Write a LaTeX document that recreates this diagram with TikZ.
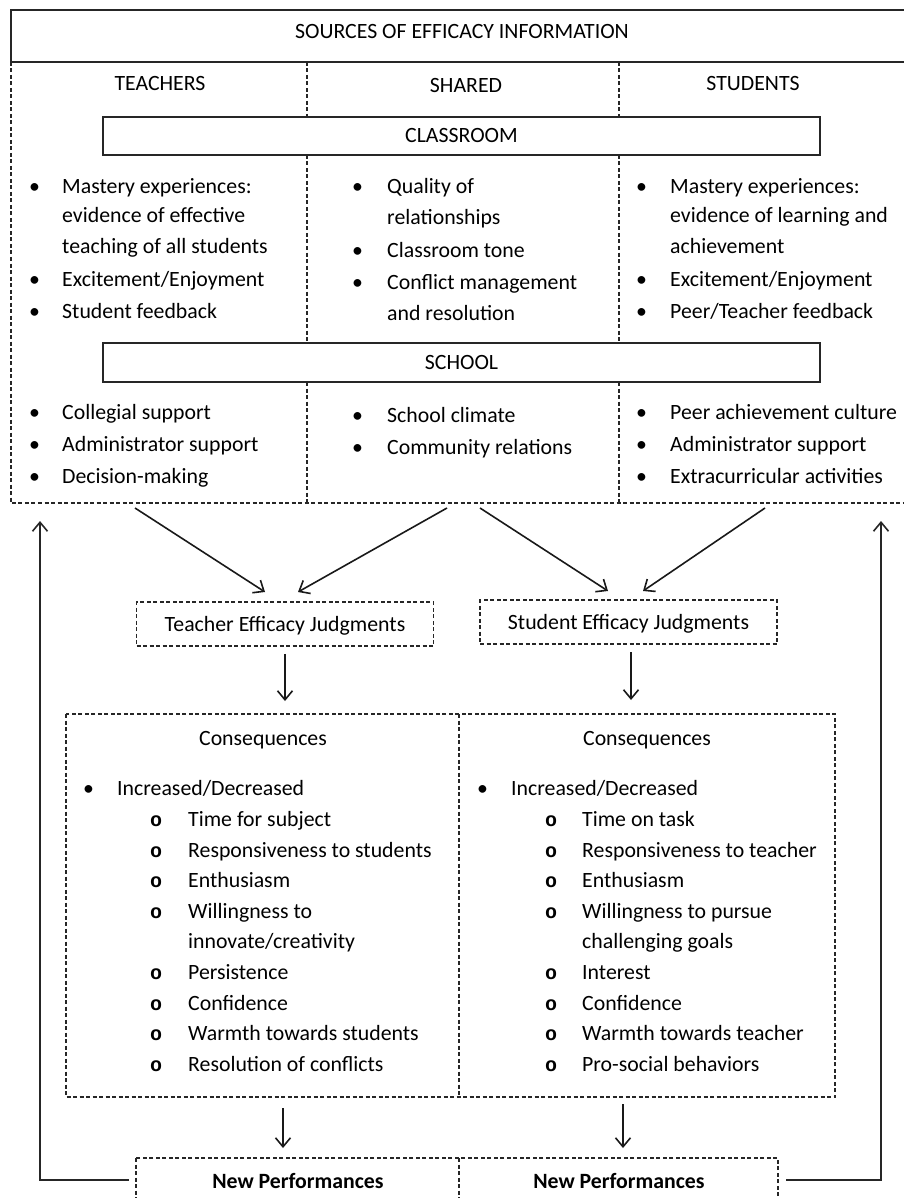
\documentclass[tikz,border=0pt]{standalone}
\usepackage{fontspec}
\setmainfont{Carlito}
\newfontfamily\monofam{Liberation Mono}
\usetikzlibrary{arrows.meta}
\begin{document}
\begin{tikzpicture}[x=1pt,y=-1pt,
  font=\fontsize{21.8}{26}\selectfont,
  solidln/.style={line width=2pt, draw=black!85},
  dsh/.style={line width=1.5pt, draw=black!85, dash pattern=on 4pt off 2.5pt},
  txt/.style={anchor=west, inner sep=0pt, text height=16pt, text depth=2pt, text=black},
  ctr/.style={anchor=center, inner sep=0pt, text height=16pt, text depth=2pt, text=black},
  blt/.style={txt},
  sub/.style={txt, font=\monofam\bfseries\fontsize{20}{24}\selectfont},
  arr/.style={line width=1.6pt, draw=black!90, -{Straight Barb[length=9pt,width=15pt,line width=1.6pt]}},
  fb/.style={line width=2pt, draw=black!85}
]
\useasboundingbox (0,0) rectangle (903,1198);

% ---------- Sources region ----------
\draw[solidln] (920,10) -- (11,10) -- (11,62) -- (920,62);
\node[ctr] (title) at (462,32) {SOURCES OF EFFICACY INFORMATION};
\draw[dsh] (11,62) -- (11,503) -- (920,503);
\foreach \xx in {307,619}{
  \draw[dsh] (\xx,62) -- (\xx,117);
  \draw[dsh] (\xx,155) -- (\xx,343);
  \draw[dsh] (\xx,382) -- (\xx,503);
}
\node[ctr] (hT) at (160,84) {TEACHERS};
\node[ctr] (hS) at (466,86) {SHARED};
\node[ctr] (hU) at (753,84) {STUDENTS};

\node[draw, solidln, minimum width=717pt, minimum height=38pt, inner sep=0pt, text height=16pt, text depth=2pt] (classroom) at (461.5,136) {CLASSROOM};
\node[draw, solidln, minimum width=717pt, minimum height=39pt, inner sep=0pt, text height=16pt, text depth=2pt] (school) at (461.5,362.5) {SCHOOL};

% teachers classroom
\node[blt] (tb1) at (29,187) {•};
\node[txt] (tt1) at (62,187) {Mastery experiences:};
\node[txt] (tt2) at (62,216) {evidence of effective};
\node[txt] (tt3) at (62,246) {teaching of all students};
\node[blt] (tb2) at (29,279) {•};
\node[txt] (tt4) at (62,279) {Excitement/Enjoyment};
\node[blt] (tb3) at (29,311) {•};
\node[txt] (tt5) at (62,311) {Student feedback};
% shared classroom
\node[blt] (sb1) at (352,187) {•};
\node[txt] (st1) at (387,187) {Quality of};
\node[txt] (st2) at (387,218) {relationships};
\node[blt] (sb2) at (352,250) {•};
\node[txt] (st3) at (387,250) {Classroom tone};
\node[blt] (sb3) at (352,282) {•};
\node[txt] (st4) at (387,282) {Conflict management};
\node[txt] (st5) at (387,313) {and resolution};
% students classroom
\node[blt] (ub1) at (636,187) {•};
\node[txt] (ut1) at (670,187) {Mastery experiences:};
\node[txt] (ut2) at (670,216) {evidence of learning and};
\node[txt] (ut3) at (670,247) {achievement};
\node[blt] (ub2) at (636,279) {•};
\node[txt] (ut4) at (670,279) {Excitement/Enjoyment};
\node[blt] (ub3) at (636,311) {•};
\node[txt] (ut5) at (670,311) {Peer/Teacher feedback};

% school
\node[blt] (tb4) at (29,412) {•};
\node[txt] (tt6) at (62,412) {Collegial support};
\node[blt] (tb5) at (29,444) {•};
\node[txt] (tt7) at (62,444) {Administrator support};
\node[blt] (tb6) at (29,476) {•};
\node[txt] (tt8) at (62,476) {Decision-making};
\node[blt] (sb4) at (352,415) {•};
\node[txt] (st6) at (387,415) {School climate};
\node[blt] (sb5) at (352,447) {•};
\node[txt] (st7) at (387,447) {Community relations};
\node[blt] (ub4) at (636,412) {•};
\node[txt] (ut6) at (670,412) {Peer achievement culture};
\node[blt] (ub5) at (636,444) {•};
\node[txt] (ut7) at (670,444) {Administrator support};
\node[blt] (ub6) at (636,476) {•};
\node[txt] (ut8) at (670,476) {Extracurricular activities};

% ---------- Judgments ----------
\node[dsh, draw, minimum width=297pt, minimum height=44pt, inner sep=0pt, text height=16pt, text depth=2pt] (tej) at (285,624) {Teacher Efficacy Judgments};
\node[dsh, draw, minimum width=297pt, minimum height=44pt, inner sep=0pt, text height=16pt, text depth=2pt] (sej) at (628.5,622) {Student Efficacy Judgments};

\coordinate (a1) at (135,508);
\coordinate (a2) at (447,508);
\coordinate (a3) at (480,508);
\coordinate (a4) at (765,508);
\coordinate (e1) at (265,592);
\coordinate (e2) at (298,592);
\coordinate (e3) at (608,591);
\coordinate (e4) at (643,591);
\draw[arr] (a1) -- (e1);
\draw[arr] (a2) -- (e2);
\draw[arr] (a3) -- (e3);
\draw[arr] (a4) -- (e4);

% ---------- Consequences ----------
\coordinate (cL) at (66,714);
\coordinate (cR) at (835,1097);
\draw[dsh] (cL) rectangle (cR);
\draw[dsh] (459,714) -- (459,1097);
\node[ctr] (cq1) at (263,738) {Consequences};
\node[ctr] (cq2) at (647,738) {Consequences};

\draw[arr] (tej.south) ++(0,7) coordinate (tj1) -- (285,701) coordinate (tj2);
\draw[arr] (631,652) coordinate (sj1) -- (631,700) coordinate (sj2);

\node[blt] (lb) at (83,788) {•};
\node[txt] (lh) at (117,788) {Increased/Decreased};
\node[blt] (rb) at (477,788) {•};
\node[txt] (rh) at (511,788) {Increased/Decreased};

\node[sub] (lo1) at (150,819) {o}; \node[txt] (ll1) at (188,819) {Time for subject};
\node[sub] (lo2) at (150,850) {o}; \node[txt] (ll2) at (188,850) {Responsiveness to students};
\node[sub] (lo3) at (150,880) {o}; \node[txt] (ll3) at (188,880) {Enthusiasm};
\node[sub] (lo4) at (150,911) {o}; \node[txt] (ll4) at (188,911) {Willingness to};
\node[txt] (ll5) at (188,941) {innovate/creativity};
\node[sub] (lo6) at (150,972) {o}; \node[txt] (ll6) at (188,972) {Persistence};
\node[sub] (lo7) at (150,1003) {o}; \node[txt] (ll7) at (188,1003) {Confidence};
\node[sub] (lo8) at (150,1033) {o}; \node[txt] (ll8) at (188,1033) {Warmth towards students};
\node[sub] (lo9) at (150,1064) {o}; \node[txt] (ll9) at (188,1064) {Resolution of conflicts};

\node[sub] (ro1) at (545,819) {o}; \node[txt] (rl1) at (582,819) {Time on task};
\node[sub] (ro2) at (545,850) {o}; \node[txt] (rl2) at (582,850) {Responsiveness to teacher};
\node[sub] (ro3) at (545,880) {o}; \node[txt] (rl3) at (582,880) {Enthusiasm};
\node[sub] (ro4) at (545,911) {o}; \node[txt] (rl4) at (582,911) {Willingness to pursue};
\node[txt] (rl5) at (582,941) {challenging goals};
\node[sub] (ro6) at (545,972) {o}; \node[txt] (rl6) at (582,972) {Interest};
\node[sub] (ro7) at (545,1003) {o}; \node[txt] (rl7) at (582,1003) {Confidence};
\node[sub] (ro8) at (545,1033) {o}; \node[txt] (rl8) at (582,1033) {Warmth towards teacher};
\node[sub] (ro9) at (545,1064) {o}; \node[txt] (rl9) at (582,1064) {Pro-social behaviors};

% ---------- New performances ----------
\coordinate (nL) at (136,1158);
\coordinate (nR) at (778,1220);
\draw[dsh] (nL) rectangle (nR);
\draw[dsh] (459,1158) -- (459,1220);
\node[ctr] (np1) at (298,1181) {\bfseries New Performances};
\node[ctr] (np2) at (619,1181) {\bfseries New Performances};

\draw[arr] (283,1108) coordinate (d1) -- (283,1148) coordinate (d2);
\draw[arr] (623,1104) coordinate (d3) -- (623,1148) coordinate (d4);

% feedback loops
\coordinate (fl1) at (129,1180);
\coordinate (fl2) at (40,1180);
\coordinate (fl3) at (40,521);
\coordinate (fr1) at (786,1180);
\coordinate (fr2) at (881,1180);
\coordinate (fr3) at (881,521);
\draw[fb, -{Straight Barb[length=9pt,width=15pt,line width=1.6pt]}] (fl1) -- (fl2) -- (fl3);
\draw[fb, -{Straight Barb[length=9pt,width=15pt,line width=1.6pt]}] (fr1) -- (fr2) -- (fr3);
\end{tikzpicture}
\end{document}
